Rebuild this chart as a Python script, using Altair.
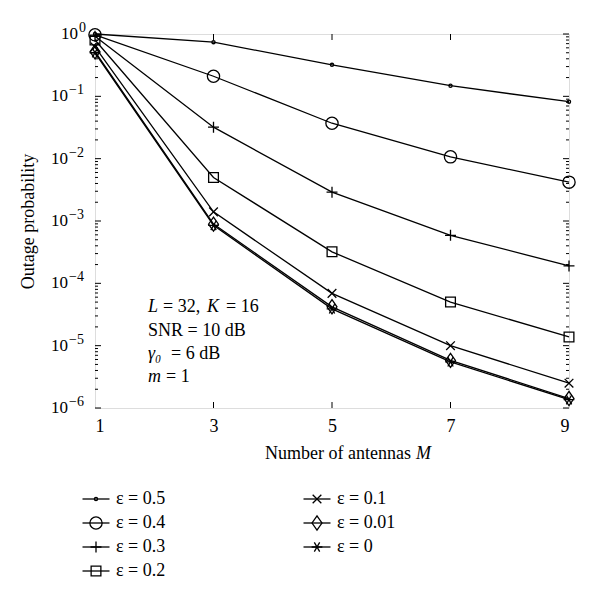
import altair as alt
import pandas as pd

# ---- data ----
M = [1, 3, 5, 7, 9]
eps_labels = ["ε = 0.5", "ε = 0.4", "ε = 0.3", "ε = 0.2", "ε = 0.1", "ε = 0.01", "ε = 0"]
p_05 = [1.0, 0.74, 0.32, 0.148, 0.082]
p_04 = [0.97, 0.21, 0.037, 0.0107, 0.0042]
p_03 = [0.92, 0.032, 0.0029, 5.9e-4, 1.9e-4]
p_02 = [0.80, 0.0050, 3.2e-4, 5.0e-5, 1.38e-5]
p_01 = [0.62, 1.4e-3, 6.9e-5, 1.0e-5, 2.5e-6]
p_001 = [0.52, 8.9e-4, 4.2e-5, 5.8e-6, 1.42e-6]
p_0 = [0.50, 8.5e-4, 3.9e-5, 5.5e-6, 1.36e-6]
series = [p_05, p_04, p_03, p_02, p_01, p_001, p_0]

y_major = [1e-6, 1e-5, 1e-4, 1e-3, 1e-2, 1e-1, 1e0]
y_exponents = ["−6", "−5", "−4", "−3", "−2", "−1", "0"]
x_ticks = [1, 3, 5, 7, 9]

FONT = "Liberation Serif"
W, H = 474, 374

rows = []
for lab, vals in zip(eps_labels, series):
    for m, v in zip(M, vals):
        rows.append({"eps": lab, "M": m, "P": v})
df = pd.DataFrame(rows)

y_minor = [k * d for d in y_major[:-1] for k in range(2, 10)]
df_major = pd.DataFrame({"v": y_major})
df_minor = pd.DataFrame({"v": y_minor})
df_xt = pd.DataFrame({"m": x_ticks[1:-1]})
df_ylab = pd.DataFrame({"v": y_major, "base": ["10"] * len(y_major), "exp": y_exponents})

shape_range = [
    "circle",
    "circle",
    "M-1,0L1,0M0,-1L0,1",
    "square",
    "M-1,-1L1,1M-1,1L1,-1",
    "M0,-1L0.7,0L0,1L-0.7,0Z",
    "M-1,0L1,0M-0.5,-0.87L0.5,0.87M-0.5,0.87L0.5,-0.87",
]
size_range = [10, 150, 120, 95, 75, 200, 115]
shape_scale = alt.Scale(type="ordinal", domain=eps_labels, range=shape_range)
size_scale = alt.Scale(type="ordinal", domain=eps_labels, range=size_range)

xscale = alt.Scale(domain=[1, 9], nice=False, zero=False)
yscale = alt.Scale(type="log", domain=[1e-6, 1], nice=False)

lines = alt.Chart(df).mark_line(color="black", strokeWidth=1.3).encode(
    x=alt.X("M:Q", scale=xscale, axis=alt.Axis(values=x_ticks, format="d", title=None, tickSize=0, domain=False,
                                                grid=False, labelFont=FONT, labelFontSize=18,
                                                labelColor="black", labelPadding=9)),
    y=alt.Y("P:Q", scale=yscale, axis=alt.Axis(values=y_major, labels=False, title="Outage probability",
                                                tickSize=0, domain=False, grid=False,
                                                titleFont=FONT, titleFontSize=18, titleFontWeight="normal",
                                                titleColor="black", titlePadding=57)),
    detail="eps:N",
)

points = alt.Chart(df).mark_point(color="black", filled=False, strokeWidth=1.3, opacity=1).encode(
    x=alt.X("M:Q", scale=xscale),
    y=alt.Y("P:Q", scale=yscale),
    shape=alt.Shape("eps:N", scale=shape_scale, legend=None),
    size=alt.Size("eps:N", scale=size_scale, legend=None),
)

# y tick labels as 10 with a raised exponent
neg = alt.datum.v < 0.5
pos = alt.datum.v >= 0.5
ylab_base = alt.Chart(df_ylab).mark_text(font=FONT, fontSize=17, color="black", align="right",
                                         baseline="alphabetic", dy=5)
ylab_exp = alt.Chart(df_ylab).mark_text(font=FONT, fontSize=14, color="black", align="left",
                                        baseline="alphabetic", dy=-2)
ylabels = [
    ylab_base.transform_filter(neg).encode(y=alt.Y("v:Q", scale=yscale), x=alt.value(-27), text="base:N"),
    ylab_exp.transform_filter(neg).encode(y=alt.Y("v:Q", scale=yscale), x=alt.value(-26), text="exp:N"),
    ylab_base.transform_filter(pos).encode(y=alt.Y("v:Q", scale=yscale), x=alt.value(-17), text="base:N"),
    ylab_exp.transform_filter(pos).encode(y=alt.Y("v:Q", scale=yscale), x=alt.value(-16), text="exp:N"),
]

tick_style = dict(color="black", strokeWidth=1)
t_left_maj = alt.Chart(df_major).mark_rule(**tick_style).encode(
    y=alt.Y("v:Q", scale=yscale), x=alt.value(0), x2=alt.value(6))
t_left_min = alt.Chart(df_minor).mark_rule(**tick_style).encode(
    y=alt.Y("v:Q", scale=yscale), x=alt.value(0), x2=alt.value(3))
t_right_maj = alt.Chart(df_major).mark_rule(**tick_style).encode(
    y=alt.Y("v:Q", scale=yscale), x=alt.value(W), x2=alt.value(W - 6))
t_right_min = alt.Chart(df_minor).mark_rule(**tick_style).encode(
    y=alt.Y("v:Q", scale=yscale), x=alt.value(W), x2=alt.value(W - 3))
t_bot = alt.Chart(df_xt).mark_rule(**tick_style).encode(
    x=alt.X("m:Q", scale=xscale), y=alt.value(H), y2=alt.value(H - 6))
t_top = alt.Chart(df_xt).mark_rule(**tick_style).encode(
    x=alt.X("m:Q", scale=xscale), y=alt.value(0), y2=alt.value(6))


def txt(s, x, y, italic=False, align="left"):
    return alt.Chart(pd.DataFrame({"t": [s]})).mark_text(
        font=FONT, fontSize=18, color="black", align=align, baseline="alphabetic",
        fontStyle="italic" if italic else "normal").encode(
        text="t:N", x=alt.value(x), y=alt.value(y))


ann = [
    txt("L", 53, 278, True), txt("= 32,", 68, 278), txt("K", 112, 278, True), txt("= 16", 131, 278),
    txt("SNR = 10 dB", 53, 302),
    txt("γ₀", 53, 325, True), txt("= 6 dB", 76, 325),
    txt("m", 53, 348, True), txt("= 1", 71, 348),
    txt("Number of antennas", 316, H + 51, False, "right"), txt("M", 321, H + 51, True),
]

main = alt.layer(lines, points, *ylabels, t_left_maj, t_left_min, t_right_maj, t_right_min, t_bot, t_top, *ann)

# ---- legend (column-major, two columns) ----
leg = pd.DataFrame({"eps": eps_labels,
                    "col": [i // 4 for i in range(len(eps_labels))],
                    "row": [i % 4 for i in range(len(eps_labels))]})
lx = alt.X("col:Q", scale=alt.Scale(domain=[0, 1], range=[1, 222]), axis=None)
ly = alt.Y("row:Q", scale=alt.Scale(domain=[0, 3], range=[465, 537]), axis=None)
leg_line = alt.Chart(leg).mark_point(shape="stroke", size=729, color="black", strokeWidth=1.3, opacity=1).encode(
    x=lx, y=ly)
leg_pts = alt.Chart(leg).mark_point(color="black", filled=False, strokeWidth=1.3, opacity=1).encode(
    x=lx, y=ly,
    shape=alt.Shape("eps:N", scale=shape_scale, legend=None),
    size=alt.Size("eps:N", scale=size_scale, legend=None))
leg_txt = alt.Chart(leg).mark_text(font=FONT, fontSize=18, color="black", align="left", baseline="middle",
                                   dx=20).encode(x=lx, y=ly, text="eps:N")
legend = alt.layer(leg_line, leg_pts, leg_txt)

chart = alt.layer(main, legend).resolve_scale(x="independent", y="independent").properties(
    width=W, height=H, padding={"left": 11, "top": 13, "right": 5, "bottom": 5}
).configure_view(stroke="black", strokeWidth=1.5).configure(background="white")

chart.save("out.html", embed_options={"renderer": "svg", "actions": False})
